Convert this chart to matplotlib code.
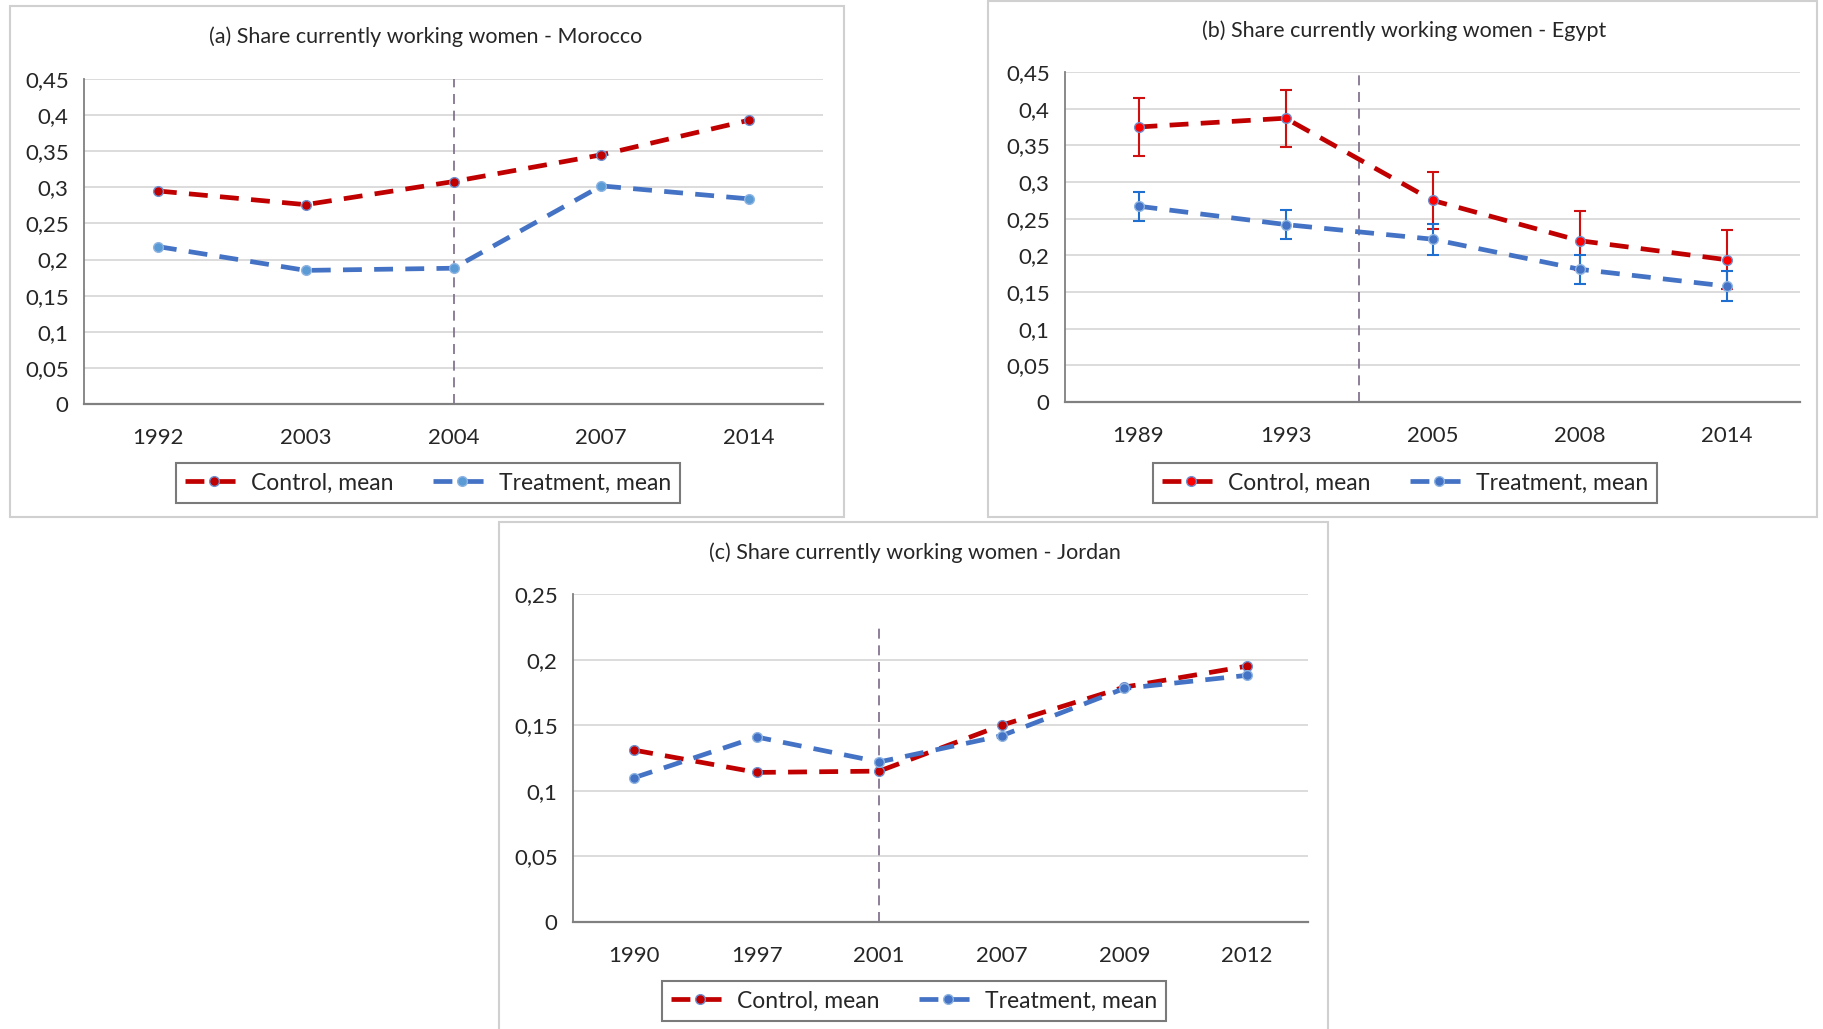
#%%
import numpy as np
import matplotlib.pyplot as plt
from matplotlib.patches import Rectangle
from matplotlib.ticker import FuncFormatter, MultipleLocator

plt.rcParams['font.family'] = ['Lato', 'DejaVu Sans']

#%%------------------------------------------------
#  Data

# (a) Morocco
mor_years = ['1992', '2003', '2004', '2007', '2014']
mor_control = [0.295, 0.276, 0.308, 0.345, 0.393]
mor_treat = [0.218, 0.185, 0.188, 0.302, 0.284]

# (b) Egypt
egy_years = ['1989', '1993', '2005', '2008', '2014']
egy_control = [0.375, 0.387, 0.275, 0.220, 0.194]
egy_control_err = [0.039, 0.039, 0.039, 0.040, 0.040]
egy_treat = [0.267, 0.242, 0.222, 0.181, 0.158]
egy_treat_err = [0.020, 0.020, 0.021, 0.020, 0.020]

# (c) Jordan
jor_years = ['1990', '1997', '2001', '2007', '2009', '2012']
jor_control = [0.131, 0.114, 0.115, 0.150, 0.179, 0.195]
jor_treat = [0.110, 0.141, 0.122, 0.142, 0.178, 0.188]

# position of the dashed reform line (category index) and its top
mor_cut, mor_cut_top = 2, 0.45
egy_cut, egy_cut_top = 1.5, 0.45
jor_cut, jor_cut_top = 2, 0.225

RED = '#C00000'
BLUE = '#4472C4'
W, H = 1823, 1029


def fx(px):
	return px / W


def fy(py):
	return 1 - py / H


def comma(v, pos):
	return f"{v:g}".replace('.', ',')


#%%------------------------------------------------
#  Function to draw one panel
def draw_panel(rect, years, control, treat, cut, cut_top, ymax, ystep, title,
			   title_xy, legend_xy, ctrl_mfc, treat_mfc,
			   control_err=None, treat_err=None):

	left, top, right, bottom = rect
	ax = fig.add_axes([fx(left), fy(bottom), fx(right - left), (bottom - top) / H])
	x = np.arange(len(years))

	ax.set_xlim(-0.5, len(years) - 0.5)
	ax.set_ylim(0, ymax)
	ax.yaxis.set_major_locator(MultipleLocator(ystep))
	ax.yaxis.set_major_formatter(FuncFormatter(comma))
	ax.set_xticks(x)
	ax.set_xticklabels(years)
	ax.tick_params(length=0, labelsize=16, colors='#262626', pad=17)
	ax.tick_params(axis='y', pad=11)

	ax.grid(axis='y', color='#D9D9D9', linewidth=1.3)
	ax.set_axisbelow(True)
	for s in ['top', 'right']:
		ax.spines[s].set_visible(False)
	ax.spines['left'].set_color('#808080')
	ax.spines['bottom'].set_color('#808080')
	ax.spines['left'].set_linewidth(1.3)
	ax.spines['bottom'].set_linewidth(1.6)

	# reform line
	ax.plot([cut, cut], [0, cut_top], color='#7A6A86', linewidth=1.2,
			dashes=(6, 4), zorder=1.5)

	# error bars
	if control_err is not None:
		ax.errorbar(x, control, yerr=control_err, fmt='none', ecolor='#D01010',
					elinewidth=1.5, capsize=4, capthick=1.5, zorder=2)
	if treat_err is not None:
		ax.errorbar(x, treat, yerr=treat_err, fmt='none', ecolor='#1F6FD0',
					elinewidth=1.5, capsize=4, capthick=1.5, zorder=2)

	ax.plot(x, control, color=RED, linewidth=3.4, dashes=(4, 2.6),
			marker='o', markersize=7, markerfacecolor=ctrl_mfc,
			markeredgecolor='#6F8FCF', markeredgewidth=1, zorder=3,
			label='Control, mean')
	ax.plot(x, treat, color=BLUE, linewidth=3.4, dashes=(4, 2.6),
			marker='o', markersize=7, markerfacecolor=treat_mfc,
			markeredgecolor='#8DB4E2', markeredgewidth=1, zorder=3,
			label='Treatment, mean')

	fig.text(fx(title_xy[0]), fy(title_xy[1]), title, ha='center', va='center',
			 fontsize=15.5, color='#262626')

	leg = ax.legend(loc='center', bbox_to_anchor=(fx(legend_xy[0]), fy(legend_xy[1])),
					bbox_transform=fig.transFigure, ncol=2, fontsize=16.5,
					frameon=True, fancybox=False, handlelength=2.6,
					columnspacing=1.7, handletextpad=0.3, borderpad=0.4)
	leg.get_frame().set_edgecolor('#595959')
	leg.get_frame().set_linewidth(1.5)
	for t in leg.get_texts():
		t.set_color('#262626')
	return ax


#%%------------------------------------------------
#  Figure
fig = plt.figure(figsize=(W / 100, H / 100), dpi=100)

# panel borders
for (x0, y0, x1, y1) in [(10, 6, 844, 517), (988, 1, 1817, 517), (499, 522, 1328, 1035)]:
	fig.patches.append(Rectangle((fx(x0), fy(y1)), fx(x1 - x0), (y1 - y0) / H,
								 transform=fig.transFigure, fill=False,
								 edgecolor='#D0D0D0', linewidth=1.5))

draw_panel((84, 79, 823, 404), mor_years, mor_control, mor_treat, mor_cut, mor_cut_top,
		   0.45, 0.05, '(a) Share currently working women - Morocco', (426, 37), (428, 483),
		   RED, '#5B9BD5')

draw_panel((1065, 72, 1800, 402), egy_years, egy_control, egy_treat, egy_cut, egy_cut_top,
		   0.45, 0.05, '(b) Share currently working women - Egypt', (1404, 31), (1405, 483),
		   '#FF0000', BLUE, egy_control_err, egy_treat_err)

draw_panel((573, 594, 1308, 922), jor_years, jor_control, jor_treat, jor_cut, jor_cut_top,
		   0.25, 0.05, '(c) Share currently working women - Jordan', (915, 553), (914, 1001),
		   RED, BLUE)

plt.savefig('out.png', dpi=100)
